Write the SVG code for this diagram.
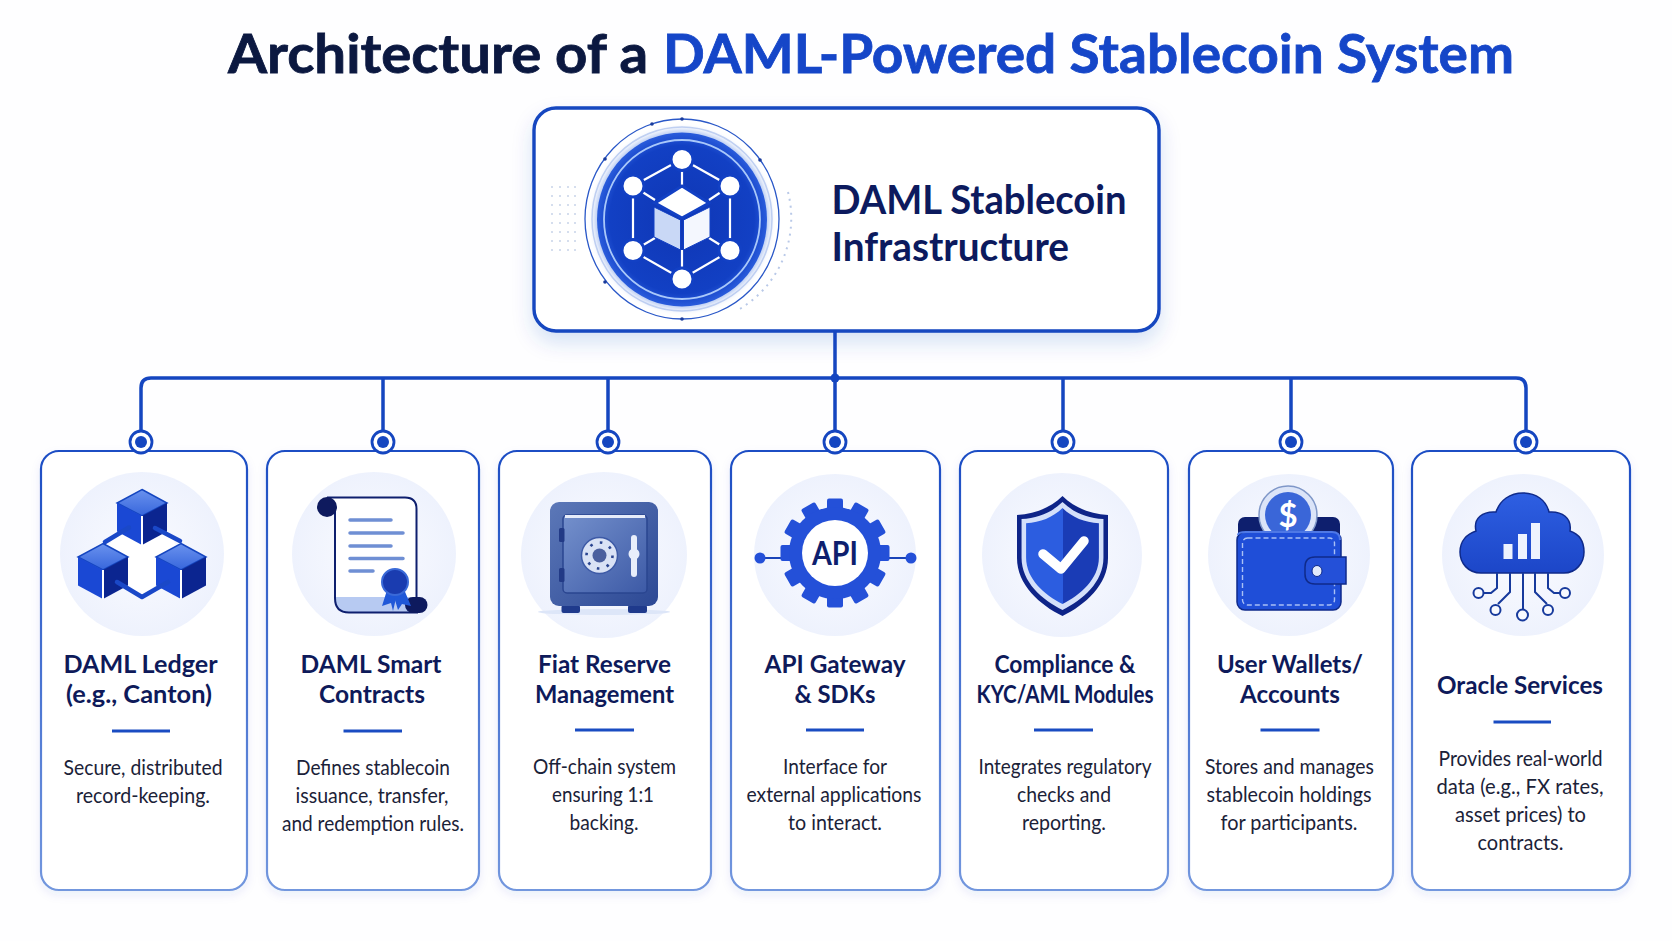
<svg xmlns="http://www.w3.org/2000/svg" width="1672" height="941" viewBox="0 0 1672 941">
<style>
text{font-family:Lato,"Liberation Sans",sans-serif;text-anchor:middle}
.h{font-size:54px;font-weight:700;text-anchor:start;stroke-width:.8}
.m{font-size:41px;font-weight:700;fill:#0c1a5e;text-anchor:start}
.t{font-size:25px;font-weight:700;fill:#0e1a5a}
.d{font-size:20.5px;fill:#1b2238}
.card{fill:#fff;stroke:url(#cs);stroke-width:2.2}
.bg{fill:url(#halo)}
.rule{fill:#1a4cc2}
.cn{fill:none;stroke:#1546c0;stroke-width:3.5;stroke-linejoin:round}
.ring{fill:#fff;stroke:#1546c0;stroke-width:2.8}
.dot{fill:#1546c0}
.net{stroke:#fff;stroke-width:2.2;fill:none}
</style>
<defs>
<linearGradient id="cs" x1="0" y1="0" x2="0" y2="1"><stop offset="0" stop-color="#1c4dc4"/><stop offset="1" stop-color="#7397de"/></linearGradient>
<radialGradient id="halo"><stop offset="0" stop-color="#fafbff"/><stop offset="1" stop-color="#eef2fd"/></radialGradient>
<radialGradient id="disk"><stop offset="0" stop-color="#0f36b4"/><stop offset=".85" stop-color="#1240c4"/><stop offset="1" stop-color="#2a5cdc"/></radialGradient>
<linearGradient id="top" x1="0" y1="0" x2="0" y2="1"><stop offset="0" stop-color="#6a92ee"/><stop offset="1" stop-color="#3766dc"/></linearGradient>
<linearGradient id="shf" x1="0" y1="0" x2="1" y2="0"><stop offset=".5" stop-color="#2c5de0"/><stop offset=".5" stop-color="#1a3cb6"/></linearGradient>
<linearGradient id="cl" x1="0" y1="0" x2="0" y2="1"><stop offset="0" stop-color="#2e5fe2"/><stop offset="1" stop-color="#1c46c8"/></linearGradient>
<linearGradient id="sf" x1="0" y1="0" x2="1" y2="1"><stop offset="0" stop-color="#5c78b8"/><stop offset="1" stop-color="#2c4894"/></linearGradient>
<linearGradient id="sd" x1="0" y1="0" x2="1" y2="1"><stop offset="0" stop-color="#7490cc"/><stop offset="1" stop-color="#3d5aa6"/></linearGradient>
<filter id="sh" x="-10%" y="-15%" width="120%" height="140%"><feDropShadow dx="0" dy="10" stdDeviation="10" flood-color="#1546c0" flood-opacity=".16"/></filter>
<filter id="sc" x="-10%" y="-5%" width="120%" height="110%"><feDropShadow dx="0" dy="4" stdDeviation="5" flood-color="#1546c0" flood-opacity=".08"/></filter>
<filter id="b3" x="-20%" y="-20%" width="140%" height="140%"><feGaussianBlur stdDeviation="3"/></filter>
<g id="cube">
<polygon points="0,-26.5 25,-13 0,0 -25,-13" fill="url(#top)" stroke="#1546c0" stroke-width="1.5"/>
<polygon points="-25,-13 0,0 0,29 -25,15.5" fill="#1a48d4"/>
<polygon points="25,-13 0,0 0,29 25,15.5" fill="#0b2590"/>
<path d="M0 0V29" stroke="#fff" stroke-width="2"/>
</g>
<rect id="tooth" x="-8" y="-54.5" width="16" height="18" rx="2" fill="#2450d8"/>
<path id="shp" d="M1062.5 496C1050 508 1035 514 1017 515V558C1017 585 1040 605 1062.5 616C1085 605 1108 585 1108 558V515C1090 514 1075 508 1062.5 496Z"/>
</defs>
<rect width="1672" height="941" fill="#fefeff"/>
<text x="228" y="72.5" class="h" fill="#0b1840" stroke="#0b1840" textLength="420" lengthAdjust="spacingAndGlyphs">Architecture of a</text>
<text x="663" y="72.5" class="h" fill="#1546c8" stroke="#1546c8" textLength="851" lengthAdjust="spacingAndGlyphs">DAML-Powered Stablecoin System</text>

<g id="node-infra">
<rect x="534" y="108" width="625" height="223" rx="22" fill="#fff" stroke="#1546c0" stroke-width="3.4" filter="url(#sh)"/>
<path d="M551 186h2v2h-2zM559 186h2v2h-2zM567 186h2v2h-2zM574 186h2v2h-2zM551 195h2v2h-2zM559 195h2v2h-2zM567 195h2v2h-2zM574 195h2v2h-2zM551 204h2v2h-2zM559 204h2v2h-2zM567 204h2v2h-2zM574 204h2v2h-2zM551 213h2v2h-2zM559 213h2v2h-2zM567 213h2v2h-2zM574 213h2v2h-2zM551 222h2v2h-2zM559 222h2v2h-2zM567 222h2v2h-2zM574 222h2v2h-2zM551 231h2v2h-2zM559 231h2v2h-2zM567 231h2v2h-2zM574 231h2v2h-2zM551 240h2v2h-2zM559 240h2v2h-2zM567 240h2v2h-2zM574 240h2v2h-2zM551 249h2v2h-2zM559 249h2v2h-2zM567 249h2v2h-2zM574 249h2v2h-2z" fill="#d5deee"/>
<path d="M788 192A106 106 0 0 1 738 310" fill="none" stroke="#b9c9e8" stroke-width="2" stroke-dasharray="2 5"/>
<ellipse cx="682" cy="219" rx="97" ry="100" fill="none" stroke="#2a58c8" stroke-width="1.3"/>
<ellipse cx="682" cy="219" rx="90" ry="92" fill="none" stroke="#c3d2f2" stroke-width="1.5"/>
<g fill="#1a3c9c"><circle cx="682" cy="119" r="1.8"/><circle cx="652" cy="124" r="1.8"/><circle cx="605" cy="159" r="1.8"/><circle cx="760" cy="160" r="1.8"/><circle cx="682" cy="319" r="1.8"/><circle cx="605" cy="282" r="1.8"/></g>
<ellipse cx="682" cy="219.5" rx="87" ry="89" fill="#a9c0f0" filter="url(#b3)"/>
<ellipse cx="682" cy="219.5" rx="85" ry="87" fill="url(#disk)"/>
<ellipse cx="682" cy="219.5" rx="78" ry="79.5" fill="none" stroke="#a9c8fa" stroke-width="1.8"/>
<path class="net" d="M682 159L730 186V251L682 279L633 251V186ZM682 159V187M730 186L709 200M730 251L709 238M682 279V250M633 251L655 238M633 186L655 200"/>
<g fill="#fff" stroke="#1240c4" stroke-width="3"><circle cx="682" cy="159.5" r="11"/><circle cx="730" cy="186" r="11"/><circle cx="730" cy="250.5" r="11"/><circle cx="682" cy="279" r="11"/><circle cx="633" cy="250.5" r="11"/><circle cx="633" cy="186" r="11"/></g>
<polygon points="682,186 709,203 682,218 655,203" fill="#fff" stroke="#1240c4" stroke-width="3"/>
<polygon points="654,207 680.5,220 680.5,250 654,237" fill="#c9d8f6" stroke="#1240c4" stroke-width="1"/>
<polygon points="710,207 683.5,220 683.5,250 710,237" fill="#f4f7fe" stroke="#1240c4" stroke-width="1"/>
<text x="831.5" y="214" class="m" textLength="295" lengthAdjust="spacingAndGlyphs">DAML Stablecoin</text>
<text x="831.5" y="261" class="m" textLength="237.5" lengthAdjust="spacingAndGlyphs">Infrastructure</text>
</g>

<g id="node-ledger">
<rect class="card" x="41" y="451" width="206" height="439" rx="18" filter="url(#sc)"/>
<circle class="bg" cx="142" cy="554" r="82"/>
<polygon points="118,530 167,530 184,558 142,598 102,558" fill="#fff"/>
<use href="#cube" x="142" y="516"/>
<use href="#cube" x="103" y="570"/>
<use href="#cube" x="181" y="570"/>
<path d="M105 542L129 527.5M155 528L180 541M117 582L142 597L168 582" fill="none" stroke="#1a48c8" stroke-width="4.5" stroke-linecap="round" stroke-linejoin="round"/>
<text class="t" x="140.5" y="673" textLength="154" lengthAdjust="spacingAndGlyphs">DAML Ledger</text>
<text class="t" x="139" y="703" textLength="146" lengthAdjust="spacingAndGlyphs">(e.g., Canton)</text>
<rect class="rule" x="112" y="729.5" width="58" height="3"/>
<text class="d" x="143" y="775" textLength="159" lengthAdjust="spacingAndGlyphs">Secure, distributed</text>
<text class="d" x="143" y="803" textLength="134" lengthAdjust="spacingAndGlyphs">record-keeping.</text>
</g>

<g id="node-contracts">
<rect class="card" x="267" y="451" width="212" height="439" rx="18" filter="url(#sc)"/>
<circle class="bg" cx="374" cy="554" r="82"/>
<path d="M327 497.5H405Q416.5 497.5 416.5 509V600L418 612.5H349Q335 612.5 335 598V506Z" fill="#fff"/>
<path d="M335 597H414V612.5H349Q335 612.5 335 598Z" fill="#b7caf2"/>
<path d="M327 497.5H405Q416.5 497.5 416.5 509V598M335 506V598Q335 612.5 349 612.5H418" fill="none" stroke="#0e1f6e" stroke-width="2"/>
<ellipse cx="327" cy="507" rx="10" ry="10" fill="#0e1a5e"/>
<rect x="405" y="597" width="22.5" height="16" rx="8" fill="#0e1a5e"/>
<g stroke="#6f8fd4" stroke-width="3.5" stroke-linecap="round"><path d="M350 520H391M350 533H403M350 546H391M350 558.5H403M350 571H373"/></g>
<polygon points="388,587 382,606 391,603 393,611 398,590" fill="#2058d8"/>
<polygon points="392,590 398,610 402,604 411,606 403,587" fill="#2058d8"/>
<circle cx="395" cy="582" r="13" fill="#1a3cb0" stroke="#3a6ad8" stroke-width="2"/>
<text class="t" x="371" y="673" textLength="141" lengthAdjust="spacingAndGlyphs">DAML Smart</text>
<text class="t" x="372" y="703" textLength="106" lengthAdjust="spacingAndGlyphs">Contracts</text>
<rect class="rule" x="343.5" y="729.5" width="58.5" height="3"/>
<text class="d" x="373" y="775" textLength="154" lengthAdjust="spacingAndGlyphs">Defines stablecoin</text>
<text class="d" x="372" y="803" textLength="153" lengthAdjust="spacingAndGlyphs">issuance, transfer,</text>
<text class="d" x="373" y="831" textLength="182" lengthAdjust="spacingAndGlyphs">and redemption rules.</text>
</g>

<g id="node-reserve">
<rect class="card" x="499" y="451" width="212" height="439" rx="18" filter="url(#sc)"/>
<circle class="bg" cx="604" cy="555" r="83"/>
<ellipse cx="604" cy="612" rx="66" ry="3" fill="#dde6f8"/>
<rect x="561.5" y="605" width="18.5" height="8" rx="2" fill="#1f3a8c"/>
<rect x="628" y="605" width="19" height="8" rx="2" fill="#1f3a8c"/>
<rect x="550" y="502" width="108" height="104" rx="9" fill="url(#sf)"/>
<rect x="563" y="515" width="84" height="78" rx="4" fill="url(#sd)" stroke="#2a4590" stroke-width="1.5"/>
<path d="M565 516.5H645" stroke="#e6ecfa" stroke-width="3"/>
<rect x="559" y="528" width="5.5" height="14" rx="1.5" fill="#223a86"/>
<rect x="559" y="568" width="5.5" height="14" rx="1.5" fill="#223a86"/>
<circle cx="599.5" cy="555.5" r="18" fill="#d9e2f5" stroke="#3d5aa6" stroke-width="1.5"/>
<circle cx="599.5" cy="555.5" r="13" fill="none" stroke="#2a4590" stroke-width="2.6" stroke-dasharray="2.6 7.6"/>
<circle cx="599.5" cy="555.5" r="7" fill="#4a5f9e"/>
<rect x="631" y="535" width="6" height="42" rx="3" fill="#e8eefb"/>
<circle cx="634" cy="554" r="5.5" fill="#e8eefb"/>
<text class="t" x="604.5" y="673" textLength="133" lengthAdjust="spacingAndGlyphs">Fiat Reserve</text>
<text class="t" x="604.5" y="703" textLength="139" lengthAdjust="spacingAndGlyphs">Management</text>
<rect class="rule" x="575" y="728.5" width="59" height="3"/>
<text class="d" x="604.5" y="774" textLength="143" lengthAdjust="spacingAndGlyphs">Off-chain system</text>
<text class="d" x="603" y="802" textLength="102" lengthAdjust="spacingAndGlyphs">ensuring 1:1</text>
<text class="d" x="604" y="830" textLength="69" lengthAdjust="spacingAndGlyphs">backing.</text>
</g>

<g id="node-api">
<rect class="card" x="731" y="451" width="209" height="439" rx="18" filter="url(#sc)"/>
<circle class="bg" cx="835" cy="555" r="81"/>
<path d="M760 558H790M880 558H911" stroke="#1a44b8" stroke-width="2"/>
<circle cx="760" cy="558" r="5.5" fill="#2450d8"/><circle cx="911" cy="558" r="5.5" fill="#2450d8"/>
<g transform="translate(835 553)">
<use href="#tooth"/><use href="#tooth" transform="rotate(30)"/><use href="#tooth" transform="rotate(60)"/><use href="#tooth" transform="rotate(90)"/><use href="#tooth" transform="rotate(120)"/><use href="#tooth" transform="rotate(150)"/><use href="#tooth" transform="rotate(180)"/><use href="#tooth" transform="rotate(210)"/><use href="#tooth" transform="rotate(240)"/><use href="#tooth" transform="rotate(270)"/><use href="#tooth" transform="rotate(300)"/><use href="#tooth" transform="rotate(330)"/>
<circle r="46" fill="#2450d8"/><circle r="33" fill="#fff"/>
</g>
<text x="835" y="565" font-size="32" font-weight="700" fill="#0e1f6e" textLength="46" lengthAdjust="spacingAndGlyphs">API</text>
<text class="t" x="835" y="673" textLength="141" lengthAdjust="spacingAndGlyphs">API Gateway</text>
<text class="t" x="835" y="703" textLength="81" lengthAdjust="spacingAndGlyphs">&amp; SDKs</text>
<rect class="rule" x="806" y="728.5" width="58" height="3"/>
<text class="d" x="835" y="774" textLength="104" lengthAdjust="spacingAndGlyphs">Interface for</text>
<text class="d" x="834" y="802" textLength="175" lengthAdjust="spacingAndGlyphs">external applications</text>
<text class="d" x="835" y="830" textLength="94" lengthAdjust="spacingAndGlyphs">to interact.</text>
</g>

<g id="node-compliance">
<rect class="card" x="960" y="451" width="208" height="439" rx="18" filter="url(#sc)"/>
<ellipse class="bg" cx="1062" cy="555" rx="80" ry="82"/>
<use href="#shp" fill="#0e2488"/>
<use href="#shp" fill="#d4e0fa" transform="translate(1062.5 556) scale(.9) translate(-1062.5 -556)"/>
<use href="#shp" fill="url(#shf)" transform="translate(1062.5 556) scale(.8) translate(-1062.5 -556)"/>
<path d="M1043 554L1061 569L1084 541" fill="none" stroke="#fff" stroke-width="9.5" stroke-linecap="round" stroke-linejoin="round"/>
<text class="t" x="1065" y="673" textLength="141" lengthAdjust="spacingAndGlyphs">Compliance &amp;</text>
<text class="t" x="1065" y="703" textLength="177" lengthAdjust="spacingAndGlyphs">KYC/AML Modules</text>
<rect class="rule" x="1034" y="728.5" width="59" height="3"/>
<text class="d" x="1065" y="774" textLength="173" lengthAdjust="spacingAndGlyphs">Integrates regulatory</text>
<text class="d" x="1064" y="802" textLength="94" lengthAdjust="spacingAndGlyphs">checks and</text>
<text class="d" x="1064" y="830" textLength="84" lengthAdjust="spacingAndGlyphs">reporting.</text>
</g>

<g id="node-wallets">
<rect class="card" x="1189" y="451" width="204" height="439" rx="18" filter="url(#sc)"/>
<circle class="bg" cx="1289" cy="555" r="81"/>
<rect x="1238" y="517" width="102" height="46" rx="7" fill="#0e1f6e"/>
<circle cx="1288" cy="515" r="29" fill="#dbe4f8" stroke="#7f97c8" stroke-width="1.5"/>
<circle cx="1288" cy="515" r="23" fill="#3a66d8"/>
<text x="1288" y="527" font-size="33" font-weight="700" fill="#fff">$</text>
<rect x="1237" y="532" width="104" height="78" rx="8" fill="#1f4ed8" stroke="#0f2a8a" stroke-width="1.5"/>
<path d="M1238 535Q1238 532 1246 532H1332Q1340 532 1340 540" fill="none" stroke="#4e78e6" stroke-width="2"/>
<rect x="1242.5" y="538" width="92" height="67" rx="5" fill="none" stroke="#a9c0f5" stroke-width="1.4" stroke-dasharray="5 3"/>
<path d="M1346 557V584H1315Q1305 584 1305 574V567Q1305 557 1315 557Z" fill="#2450d8" stroke="#0f2a8a" stroke-width="1.5"/>
<ellipse cx="1317" cy="571" rx="5" ry="5.5" fill="#e2eafb" stroke="#0f2a8a" stroke-width="1"/>
<text class="t" x="1290" y="673" textLength="146" lengthAdjust="spacingAndGlyphs">User Wallets/</text>
<text class="t" x="1290" y="703" textLength="100" lengthAdjust="spacingAndGlyphs">Accounts</text>
<rect class="rule" x="1260.5" y="728.5" width="59" height="3"/>
<text class="d" x="1289.5" y="774" textLength="169" lengthAdjust="spacingAndGlyphs">Stores and manages</text>
<text class="d" x="1289" y="802" textLength="165" lengthAdjust="spacingAndGlyphs">stablecoin holdings</text>
<text class="d" x="1289" y="830" textLength="137" lengthAdjust="spacingAndGlyphs">for participants.</text>
</g>

<g id="node-oracle">
<rect class="card" x="1412" y="451" width="218" height="439" rx="18" filter="url(#sc)"/>
<circle class="bg" cx="1523" cy="555" r="81"/>
<path d="M1481 573C1468 573 1460 563 1460 552C1460 541 1467 534 1476 531C1473 518 1483 511 1496 512C1500 500 1510 493 1523 493C1536 493 1546 500 1549 512C1562 511 1572 518 1570 531C1579 534 1584 541 1584 552C1584 563 1576 573 1564 573Z" fill="url(#cl)" stroke="#0f2a8a" stroke-width="1.5"/>
<g fill="#eef3fe"><rect x="1503.5" y="544" width="9" height="15"/><rect x="1518" y="534" width="9" height="25"/><rect x="1531" y="523" width="9" height="36"/></g>
<g fill="#f8faff" stroke="#173a9c" stroke-width="2">
<path d="M1497 573V588L1491 593H1484M1510 573V592L1498 604M1523 573V609M1535 573V592L1547 604M1548 573V588L1554 593H1560" fill="none"/>
<circle cx="1478.5" cy="593" r="5"/><circle cx="1495.5" cy="610" r="5"/><circle cx="1522.5" cy="615" r="5.5"/><circle cx="1548" cy="610" r="5"/><circle cx="1565" cy="593" r="5"/>
</g>
<text class="t" x="1520" y="694" textLength="166" lengthAdjust="spacingAndGlyphs">Oracle Services</text>
<rect class="rule" x="1493.5" y="720.5" width="57.5" height="3"/>
<text class="d" x="1520.5" y="766" textLength="164" lengthAdjust="spacingAndGlyphs">Provides real-world</text>
<text class="d" x="1520" y="794" textLength="167" lengthAdjust="spacingAndGlyphs">data (e.g., FX rates,</text>
<text class="d" x="1520.5" y="822" textLength="131" lengthAdjust="spacingAndGlyphs">asset prices) to</text>
<text class="d" x="1520.5" y="849.5" textLength="86" lengthAdjust="spacingAndGlyphs">contracts.</text>
</g>

<g id="connectors">
<path class="cn" d="M835 331V378M141 431V388Q141 378 151 378H1516Q1526 378 1526 388V431M383 378V431M608 378V431M835 378V431M1063 378V431M1291 378V431"/>
<circle class="dot" cx="835" cy="378" r="4.5"/>
<g id="ports">
<circle class="ring" cx="141" cy="442" r="11"/><circle class="dot" cx="141" cy="442" r="6"/>
<circle class="ring" cx="383" cy="442" r="11"/><circle class="dot" cx="383" cy="442" r="6"/>
<circle class="ring" cx="608" cy="442" r="11"/><circle class="dot" cx="608" cy="442" r="6"/>
<circle class="ring" cx="835" cy="442" r="11"/><circle class="dot" cx="835" cy="442" r="6"/>
<circle class="ring" cx="1063" cy="442" r="11"/><circle class="dot" cx="1063" cy="442" r="6"/>
<circle class="ring" cx="1291" cy="442" r="11"/><circle class="dot" cx="1291" cy="442" r="6"/>
<circle class="ring" cx="1526" cy="442" r="11"/><circle class="dot" cx="1526" cy="442" r="6"/>
</g>
</g>
</svg>
